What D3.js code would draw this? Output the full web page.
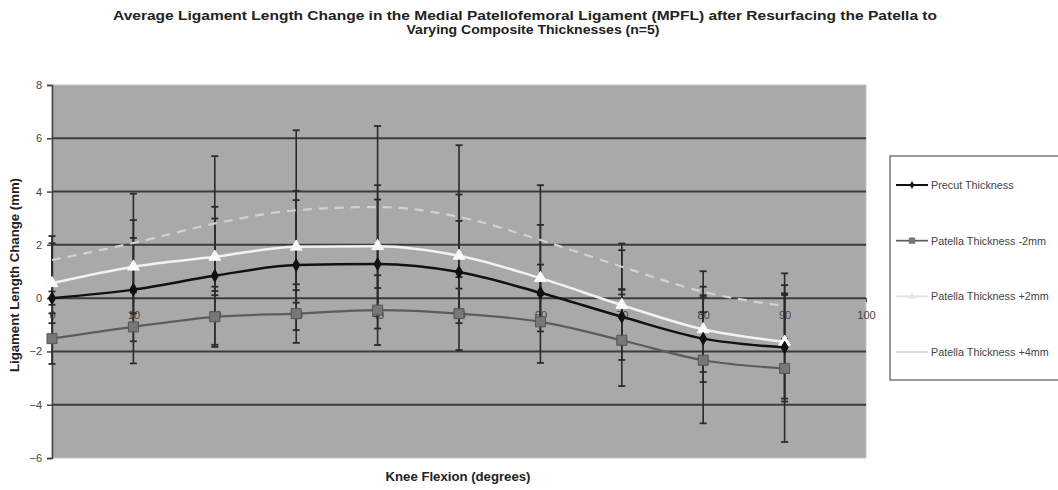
<!DOCTYPE html>
<html><head><meta charset="utf-8">
<script src="https://cdn.jsdelivr.net/npm/d3@7"></script>
<style>body{margin:0;background:#fff}svg{display:block;font-family:"Liberation Sans",Arial,sans-serif}</style>
</head><body><svg id="c" width="1058" height="490"></svg>
<script>
const flexion = [0,10,20,30,40,50,60,70,80,90];
const xTicks = [0,10,20,30,40,50,60,70,80,90,100];
const yTicks = [-6,-4,-2,0,2,4,6,8];
const seriesNames = ["Precut Thickness","Patella Thickness -2mm","Patella Thickness +2mm","Patella Thickness +4mm"];
const precut   = [0, 0.32, 0.84, 1.24, 1.28, 0.98, 0.2, -0.7, -1.52, -1.85];
const minus2   = [-1.52, -1.08, -0.7, -0.58, -0.45, -0.58, -0.89, -1.58, -2.33, -2.64];
const plus2    = [0.56, 1.18, 1.55, 1.93, 1.95, 1.59, 0.75, -0.26, -1.17, -1.64];
const plus4    = [1.43, 2.07, 2.8, 3.3, 3.42, 3.05, 2.18, 1.18, 0.24, -0.3];
const precutSD = [0.25, 1.94, 2.59, 2.44, 2.42, 1.92, 1.06, 1.04, 1.63, 2.03];
const minus2SD = [0.95, 1.37, 1.13, 1.1, 1.31, 1.37, 1.54, 1.72, 2.37, 2.76];
const plus2SD  = [1.5, 1.75, 1.44, 2.1, 2.29, 2.3, 2.0, 2.06, 1.6, 2.13];
const plus4SD  = [0.9, 1.85, 2.53, 3.0, 3.04, 2.69, 2.06, 0.87, 0.77, 1.23];
const titleLines = ["Average Ligament Length Change in the Medial Patellofemoral Ligament (MPFL) after Resurfacing the Patella to","Varying Composite Thicknesses (n=5)"];

const svg = d3.select("#c");
const L=52,R=866,T=85,B=458;
const x = d3.scaleLinear().domain([0,100]).range([L,R]);
const y = d3.scaleLinear().domain([-6,8]).range([B,T]);

// title
const titleWidths=[824,253];
svg.append("g").selectAll("text").data(titleLines).join("text")
  .attr("x",(d,i)=>i?533:525).attr("y",(d,i)=>20+i*14).attr("text-anchor","middle")
  .attr("font-size",12.5).attr("font-weight","bold").attr("fill","#222")
  .attr("textLength",(d,i)=>titleWidths[i]).attr("lengthAdjust","spacingAndGlyphs").text(d=>d);

// plot bg
svg.append("rect").attr("x",L).attr("y",T).attr("width",R-L).attr("height",B-T).attr("fill","#a9a9a9").attr("stroke","#c4c4c4");

// gridlines
svg.append("g").selectAll("line").data(yTicks.filter(v=>v>-6&&v<8)).join("line")
  .attr("x1",L).attr("x2",R).attr("y1",d=>y(d)).attr("y2",d=>y(d))
  .attr("stroke","#3c3c3c").attr("stroke-width",2);

// y axis
const ya = svg.append("g").attr("transform",`translate(${L},0)`).call(d3.axisLeft(y).tickValues(yTicks).tickSize(5).tickPadding(5).tickFormat(d3.format("d")));
ya.selectAll("path,line").attr("stroke","#444").attr("stroke-width",1.5);
ya.selectAll("text").attr("font-size",11).attr("fill","#444").attr("font-family","Liberation Sans,Arial,sans-serif");

// x axis at zero
const xa = svg.append("g").attr("transform",`translate(0,${y(0)})`).call(d3.axisBottom(x).tickValues(xTicks).tickSize(4).tickPadding(9));
xa.select("path").remove();
xa.selectAll("line").attr("stroke","#444");
xa.selectAll("text").attr("font-size",11).attr("fill","#444").attr("font-family","Liberation Sans,Arial,sans-serif");

// axis titles
svg.append("text").attr("transform","translate(19,275) rotate(-90)").attr("text-anchor","middle")
  .attr("font-size",12).attr("font-weight","bold").attr("fill","#222")
  .attr("textLength",194).attr("lengthAdjust","spacingAndGlyphs").text("Ligament Length Change (mm)");
svg.append("text").attr("x",458).attr("y",481).attr("text-anchor","middle")
  .attr("font-size",12).attr("font-weight","bold").attr("fill","#222")
  .attr("textLength",145).attr("lengthAdjust","spacingAndGlyphs").text("Knee Flexion (degrees)");

const series = [
  {name:seriesNames[0], v:precut, sd:precutSD, color:"#111", w:2.5, dash:null, sym:d3.symbolDiamond, size:45, fill:"#111", stroke:"#111"},
  {name:seriesNames[1], v:minus2, sd:minus2SD, color:"#5c5c5c", w:2.2, dash:null, sym:d3.symbolSquare, size:100, fill:"#777", stroke:"#555"},
  {name:seriesNames[2], v:plus2, sd:plus2SD, color:"#f2f2f2", w:2.5, dash:null, sym:d3.symbolTriangle, size:60, fill:"#fafafa", stroke:"#fafafa"},
  {name:seriesNames[3], v:plus4, sd:plus4SD, color:"#d2d2d2", w:2.2, dash:"9,7", sym:null}
];

// error bars
const eg = svg.append("g");
series.forEach(s=>{
  flexion.forEach((f,i)=>{
    const hi=y(s.v[i]+s.sd[i]), lo=y(s.v[i]-s.sd[i]), cx=x(f);
    eg.append("line").attr("x1",cx).attr("x2",cx).attr("y1",hi).attr("y2",lo).attr("stroke","#2a2a2a").attr("stroke-width",1.6);
    [hi,lo].forEach(yy=>eg.append("line").attr("x1",cx-3.5).attr("x2",cx+3.5).attr("y1",yy).attr("y2",yy).attr("stroke","#2a2a2a").attr("stroke-width",1.8));
  });
});

// lines (draw order: +4, -2, +2, precut)
const line = d3.line().x((d,i)=>x(flexion[i])).y(d=>y(d)).curve(d3.curveMonotoneX);
[3,1,2,0].forEach(k=>{
  const s=series[k];
  svg.append("path").datum(s.v).attr("d",line).attr("fill","none").attr("stroke",s.color)
    .attr("stroke-width",s.w).attr("stroke-dasharray",s.dash);
  if(s.sym){
    svg.append("g").selectAll("path").data(s.v).join("path")
      .attr("transform",(d,i)=>`translate(${x(flexion[i])},${y(d)})`)
      .attr("d",d3.symbol().type(s.sym).size(s.size)).attr("fill",s.fill).attr("stroke",s.stroke).attr("stroke-width",1);
  }
});

// legend
const lg = svg.append("g");
lg.append("rect").attr("x",890).attr("y",156).attr("width",180).attr("height",224).attr("fill","#fff").attr("stroke","#777").attr("stroke-width",1.5);
const ly = d3.scalePoint().domain(seriesNames).range([185,352]);
series.forEach(s=>{
  const yy=ly(s.name);
  lg.append("line").attr("x1",896).attr("x2",928).attr("y1",yy).attr("y2",yy).attr("stroke",s.color==="#f2f2f2"?"#e4e4e4":s.color).attr("stroke-width",s.w-0.5);
  if(s.sym) lg.append("path").attr("transform",`translate(912,${yy})`).attr("d",d3.symbol().type(s.sym).size(s.size*0.4)).attr("fill",s.fill==="#fafafa"?"#e8e8e8":s.fill);
  lg.append("text").attr("x",931).attr("y",yy+4).attr("font-size",10.8).attr("fill","#444").text(s.name);
});
</script></body></html>
